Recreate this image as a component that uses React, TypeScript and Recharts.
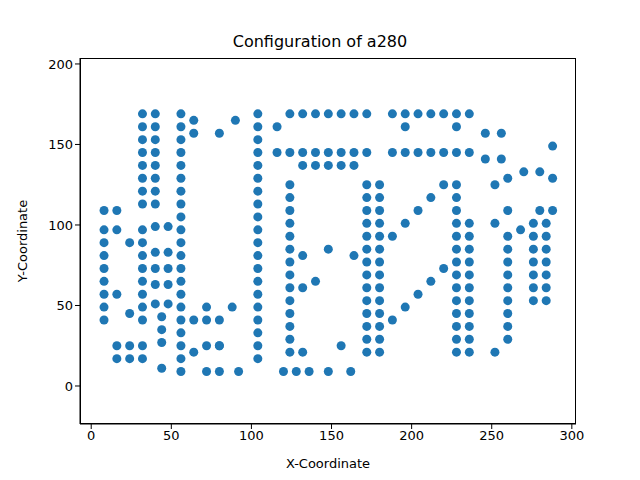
import { Scatter, ScatterChart, XAxis, YAxis, Label } from "recharts"

const xs = [
  288, 288, 270, 256, 256, 246, 236, 228, 228, 220, 212, 204, 196, 188, 196, 188, 172, 164, 156, 148, 140, 148, 164, 172, 156, 140, 132, 124, 116, 104,
  104, 104, 90, 80, 64, 64, 56, 56, 56, 56, 56, 56, 56, 40, 40, 40, 40, 40, 40, 40, 32, 32, 32, 32, 32, 32, 32, 32, 40, 56,
  56, 48, 40, 32, 32, 24, 16, 16, 8, 8, 8, 8, 8, 8, 8, 16, 8, 8, 24, 32, 32, 32, 32, 32, 32, 40, 40, 40, 40, 44,
  44, 44, 32, 24, 16, 16, 24, 32, 44, 56, 56, 56, 56, 56, 64, 72, 72, 56, 48, 56, 56, 48, 48, 56, 56, 48, 56, 56, 104, 104,
  104, 104, 104, 104, 104, 116, 124, 132, 132, 140, 148, 156, 164, 172, 172, 172, 172, 172, 172, 180, 180, 180, 180, 180, 172, 172, 172, 172, 164, 148,
  124, 124, 124, 124, 124, 124, 104, 104, 104, 104, 104, 104, 104, 104, 104, 92, 80, 72, 64, 72, 80, 80, 80, 88, 104, 124, 124, 132, 140, 132,
  124, 124, 124, 124, 124, 132, 124, 120, 128, 136, 148, 162, 156, 172, 180, 180, 172, 172, 172, 180, 180, 188, 196, 204, 212, 220, 228, 228, 236, 236,
  236, 228, 228, 236, 236, 228, 228, 236, 236, 228, 228, 236, 252, 260, 260, 260, 260, 260, 260, 260, 276, 276, 276, 276, 284, 284, 284, 284, 284, 284,
  284, 288, 280, 276, 276, 276, 268, 260, 252, 260, 260, 236, 228, 228, 236, 236, 228, 228, 228, 228, 220, 212, 204, 196, 188, 180, 180, 180, 180, 180,
  196, 204, 212, 220, 228, 236, 246, 252, 260, 280,
]

const ys = [
  149, 129, 133, 141, 157, 157, 169, 169, 161, 169, 169, 169, 169, 169, 161, 145, 145, 145, 145, 145, 145, 169, 169, 169, 169, 169, 169, 169, 161, 153,
  161, 169, 165, 157, 157, 165, 169, 161, 153, 145, 137, 129, 121, 121, 129, 137, 145, 153, 161, 169, 169, 161, 153, 145, 137, 129, 121, 113, 113, 113,
  105, 99, 99, 97, 89, 89, 97, 109, 109, 97, 89, 81, 73, 65, 57, 57, 49, 41, 45, 41, 49, 57, 65, 73, 81, 83, 73, 63, 51, 43,
  35, 27, 25, 25, 25, 17, 17, 17, 11, 9, 17, 25, 33, 41, 41, 41, 49, 49, 51, 57, 65, 63, 73, 73, 81, 83, 89, 97, 97, 105,
  113, 121, 129, 137, 145, 145, 145, 145, 137, 137, 137, 137, 137, 125, 117, 109, 101, 93, 85, 85, 77, 69, 61, 53, 53, 61, 69, 77, 81, 85,
  85, 93, 109, 125, 117, 101, 89, 81, 73, 65, 49, 41, 33, 25, 17, 9, 9, 9, 21, 25, 25, 25, 41, 49, 57, 69, 77, 81, 65, 61,
  61, 53, 45, 37, 29, 21, 21, 9, 9, 9, 9, 9, 25, 21, 21, 29, 29, 37, 45, 45, 37, 41, 49, 57, 65, 73, 69, 77, 77, 69,
  61, 61, 53, 53, 45, 45, 37, 37, 29, 29, 21, 21, 21, 29, 37, 45, 53, 61, 69, 77, 77, 69, 61, 53, 53, 61, 69, 77, 85, 93,
  101, 109, 109, 101, 93, 85, 97, 109, 101, 93, 85, 85, 85, 93, 93, 101, 101, 109, 117, 125, 125, 117, 109, 101, 93, 93, 101, 109, 117, 125,
  145, 145, 145, 145, 145, 145, 141, 125, 129, 133,
]

const xTicks = [0, 50, 100, 150, 200, 250, 300]
const yTicks = [0, 50, 100, 150, 200]

const points = xs.map((x, i) => ({ x, y: ys[i] }))

const font = "DejaVu Sans, sans-serif"

export default function App() {
  return (
    <div style={{ position: "absolute", left: 0, top: 0, width: 640, height: 480, background: "#fff", fontFamily: font }}>
      <div style={{ position: "absolute", left: 0, width: 640, top: 32, textAlign: "center", fontSize: 16 }}>
        Configuration of a280
      </div>
      <ScatterChart width={640} height={480} margin={{ top: 58, right: 64, bottom: 0, left: 0 }}>
        <XAxis
          type="number"
          dataKey="x"
          domain={[-7, 302.6]}
          ticks={xTicks}
          height={56}
          tickSize={5}
          stroke="#000"
          tick={{ fill: "#000", fontSize: 13, fontFamily: font }}
        >
          <Label value="X-Coordinate" position="insideBottom" offset={12} style={{ fill: "#000", fontSize: 13, fontFamily: font }} />
        </XAxis>
        <YAxis
          type="number"
          dataKey="y"
          domain={[-23.6, 203.7]}
          ticks={yTicks}
          width={80}
          tickSize={5}
          stroke="#000"
          tick={{ fill: "#000", fontSize: 13, fontFamily: font }}
        >
          <Label value="Y-Coordinate" angle={-90} position="insideLeft" offset={22} style={{ fill: "#000", fontSize: 13, fontFamily: font, textAnchor: "middle" }} />
        </YAxis>
        <Scatter
          data={points}
          isAnimationActive={false}
          shape={(p: any) => <circle cx={p.cx} cy={p.cy} r={4.5} fill="#1f77b4" />}
        />
      </ScatterChart>
      <div style={{ position: "absolute", left: 80, top: 58, width: 496, height: 366, border: "1px solid #000", boxSizing: "border-box", pointerEvents: "none" }} />
    </div>
  )
}
